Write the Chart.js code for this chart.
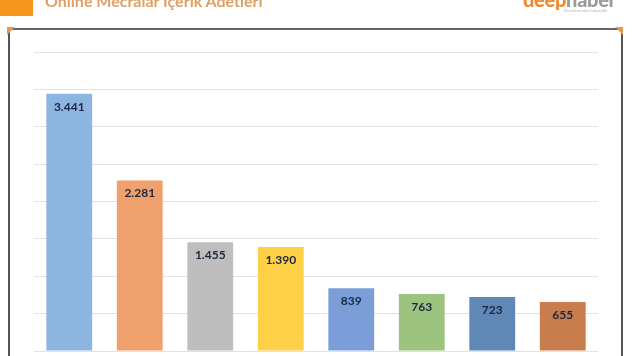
<!DOCTYPE html>
<html><head><meta charset="utf-8">
<script src="https://cdn.jsdelivr.net/npm/chart.js@4/dist/chart.umd.min.js"></script>
<style>
html,body{margin:0;padding:0;background:#fff;width:632px;height:356px;overflow:hidden;position:relative;font-family:Lato,"Open Sans",sans-serif}
#wrap{position:absolute;left:0;top:0;width:632px;height:356px}
.sq{position:absolute;left:0;top:0;width:33px;height:16px;background:#F7941D;z-index:2}
.title{position:absolute;left:45px;top:-7px;font-size:16px;line-height:16px;font-weight:bold;color:#DDA066;white-space:nowrap;z-index:2}
.logo{position:absolute;left:523px;top:-11px;font-size:20px;line-height:20px;font-weight:900;white-space:nowrap;letter-spacing:-0.3px;z-index:2}
.logo .d{color:#F08A2C}.logo .h{color:#9A9A9A}
.tag{position:absolute;left:564px;top:9px;font-size:4px;line-height:4px;color:#b0b0b0;white-space:nowrap;z-index:2}
.fr-top{position:absolute;left:8px;top:28px;width:614px;height:2px;background:#666;z-index:3}
.fr-l{position:absolute;left:8px;top:28px;width:2px;height:330px;background:#555;z-index:3}
.fr-r{position:absolute;left:621px;top:28px;width:2px;height:330px;background:#555;z-index:3}
.c1{position:absolute;left:7px;top:27px;width:0;height:0;border-top:8px solid #E39A50;border-right:8px solid transparent;z-index:4}
.c2{position:absolute;left:615px;top:27px;width:0;height:0;border-top:8px solid #E39A50;border-left:8px solid transparent;z-index:4}
canvas{position:absolute;left:0;top:0;z-index:1}
</style></head>
<body>
<div id="wrap">
<div class="sq"></div>
<div class="title">Online Mecralar İçerik Adetleri</div>
<div class="logo"><span class="d">deep</span><span class="h">haber</span></div>
<div class="tag">Derinlemesine habercilik</div>
<div class="fr-top"></div><div class="fr-l"></div><div class="fr-r"></div>
<div class="c1"></div><div class="c2"></div>
<canvas id="c" width="632" height="356"></canvas>
</div>
<script>
const categories = ["Mecra 1","Mecra 2","Mecra 3","Mecra 4","Mecra 5","Mecra 6","Mecra 7","Mecra 8"];
const values = [3441, 2281, 1455, 1390, 839, 763, 723, 655];
const barColors = ["#8DB5E2","#EFA06C","#BEBEBE","#FDD046","#7B9ED8","#9CC47E","#5F88B6","#C77D4C"];
const yTicks = [0,500,1000,1500,2000,2500,3000,3500,4000];

function fmt(v){return String(v).replace(/\B(?=(\d{3})+(?!\d))/g,'.');}

const labelPlugin = {
  id:'vlabels',
  afterDatasetsDraw(chart){
    const ctx = chart.ctx;
    const meta = chart.getDatasetMeta(0);
    ctx.save();
    ctx.font = 'bold 12px Lato, "Liberation Sans", Arial, sans-serif';
    ctx.fillStyle = '#1C2742';
    ctx.textAlign = 'center';
    ctx.textBaseline = 'middle';
    meta.data.forEach((b,i)=>{
      ctx.fillText(fmt(values[i]), b.x, b.y + 13);
    });
    ctx.restore();
  }
};

new Chart(document.getElementById('c'), {
  type:'bar',
  data:{labels:categories, datasets:[{data:values, backgroundColor:barColors, borderWidth:0, barPercentage:0.65, categoryPercentage:1}]},
  options:{
    responsive:false, animation:false,
    layout:{padding:{left:34,right:34,top:52,bottom:5}},
    plugins:{legend:{display:false},tooltip:{enabled:false}},
    scales:{
      x:{display:true, grid:{display:false, drawTicks:false}, border:{display:false}, ticks:{display:false}},
      y:{min:0,max:4000, afterBuildTicks(ax){ax.ticks = yTicks.map(v=>({value:v}));},
         grid:{color:'#E2E2E2', lineWidth:1, drawTicks:false}, border:{display:false}, ticks:{display:false}}
    }
  },
  plugins:[labelPlugin]
});
</script>
</body></html>
